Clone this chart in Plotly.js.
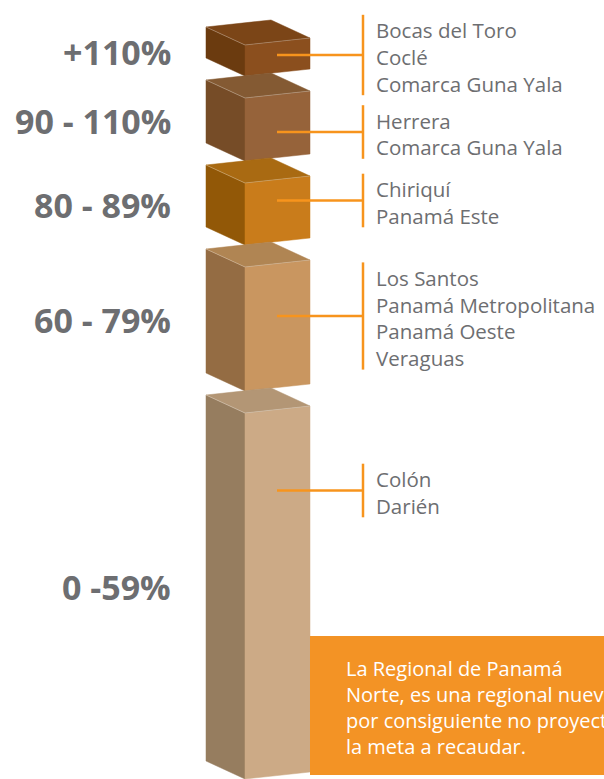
<!DOCTYPE html>
<html>
<head>
<meta charset="utf-8">
<script src="https://cdn.plot.ly/plotly-3.0.1.min.js"></script>
<style>html,body{margin:0;padding:0;background:#fff;}#chart{width:604px;height:779px;}</style>
</head>
<body>
<div id="chart"></div>
<script>
// ---- data ----
const tiers = ['+110%', '90 - 110%', '80 - 89%', '60 - 79%', '0 -59%'];
const tierHeight = [31, 63, 62, 124, 366];
const regions = [
  ['Bocas del Toro', 'Coclé', 'Comarca Guna Yala'],
  ['Herrera', 'Comarca Guna Yala'],
  ['Chiriquí', 'Panamá Este'],
  ['Los Santos', 'Panamá Metropolitana', 'Panamá Oeste', 'Veraguas'],
  ['Colón', 'Darién']
];
const noteLines = ['La Regional de Panamá', 'Norte, es una regional nueva y', 'por consiguiente no proyectó', 'la meta a recaudar.'];

// ---- styles / layout constants ----
const faceColors = [
  {top: '#7B4517', left: '#6B3B0F', front: '#8B4F1E'},
  {top: '#845A33', left: '#764C27', front: '#96633A'},
  {top: '#A96A12', left: '#925807', front: '#C97C1B'},
  {top: '#B08553', left: '#946C43', front: '#C99660'},
  {top: '#B39675', left: '#967D5F', front: '#CCAA86'}
];
const orange = '#F7941D';
const grey = '#6D6E71';
const firstTop = 45, gap = 22;
const xL = 206, xM = 245, xR = 310, depthY = 18, slopeY = 7, backX = 271;
const bracketCenter = [55, 132, 200.5, 316, 490.5];
const lineStep = 26.6;
const bracketX = 363, stubX = 277, textX = 374;

const traces = [];
const annotations = [];
const shapes = [];

function poly(xs, ys, color) {
  traces.push({
    type: 'scatter', mode: 'lines', x: xs.concat([xs[0]]), y: ys.concat([ys[0]]),
    fill: 'toself', fillcolor: color, line: {width: 0.5, color: color},
    hoverinfo: 'skip', showlegend: false
  });
}
function seg(xs, ys, color, w) {
  traces.push({
    type: 'scatter', mode: 'lines', x: xs, y: ys,
    line: {width: w, color: color}, hoverinfo: 'skip', showlegend: false
  });
}

let y0 = firstTop;
tiers.forEach((t, i) => {
  const h = tierHeight[i];
  const c = faceColors[i];
  // left face
  poly([xL, xM, xM, xL], [y0 - depthY, y0, y0 + h, y0 - depthY + h], c.left);
  // front face
  poly([xM, xR, xR, xM], [y0, y0 - slopeY, y0 - slopeY + h, y0 + h], c.front);
  // top face
  poly([xL, backX, xR, xM], [y0 - depthY, y0 - depthY - slopeY, y0 - slopeY, y0], c.top);
  // highlight edges
  seg([xL, xM, xR], [y0 - depthY, y0, y0 - slopeY], 'rgba(255,255,255,0.35)', 0.8);

  // tier label
  annotations.push({
    x: 173, y: (y0 - depthY + y0 + h) / 2, xref: 'x', yref: 'y',
    text: t, showarrow: false, xanchor: 'right', yanchor: 'middle',
    font: {family: 'Open Sans', size: 34, color: grey, weight: 700}
  });

  // bracket
  const n = regions[i].length;
  const bc = bracketCenter[i];
  const half = n * 13.4;
  seg([bracketX, bracketX], [bc - half, bc + half], orange, 2.5);
  seg([stubX, bracketX], [bc, bc], orange, 2.5);
  regions[i].forEach((r, k) => {
    annotations.push({
      x: textX, y: bc + 2 + (k - (n - 1) / 2) * lineStep, xref: 'x', yref: 'y',
      text: r, showarrow: false, xanchor: 'left', yanchor: 'middle',
      font: {family: 'Open Sans', size: 20.5, color: grey}
    });
  });

  y0 += h + gap;
});

// note box
shapes.push({type: 'rect', xref: 'x', yref: 'y', x0: 310, x1: 620, y0: 636, y1: 775,
  fillcolor: '#F39325', line: {width: 0}, layer: 'above'});
annotations.push({
  x: 344, y: 707, xref: 'x', yref: 'y', text: noteLines.join('<br>'), showarrow: false,
  xanchor: 'left', yanchor: 'middle', align: 'left',
  font: {family: 'Open Sans', size: 20, color: '#FFFFFF'}
});

const layout = {
  width: 604, height: 779,
  margin: {l: 0, r: 0, t: 0, b: 0},
  paper_bgcolor: '#FFFFFF', plot_bgcolor: '#FFFFFF',
  xaxis: {range: [0, 604], visible: false, fixedrange: true},
  yaxis: {range: [779, 0], visible: false, fixedrange: true},
  showlegend: false,
  shapes: shapes,
  annotations: annotations
};
Plotly.newPlot('chart', traces, layout, {staticPlot: true, displayModeBar: false});
</script>
</body>
</html>
